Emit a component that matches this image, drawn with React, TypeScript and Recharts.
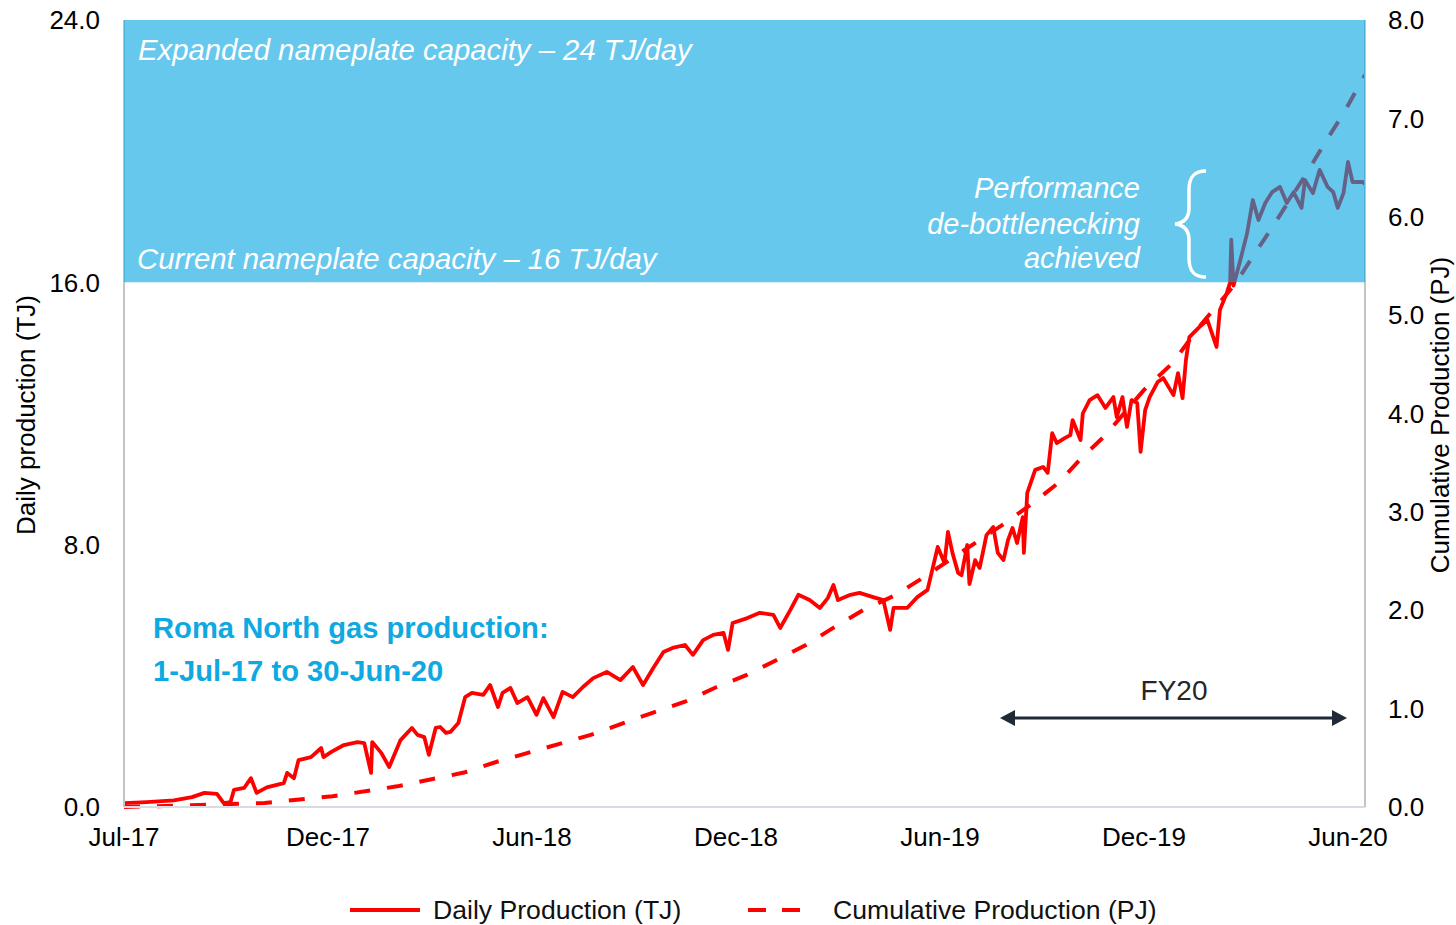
import React from 'react';
import { ComposedChart, Line, XAxis, YAxis, ReferenceArea, Legend } from 'recharts';

const FONT = '"Liberation Sans", Arial, Helvetica, sans-serif';

// Daily production (TJ/day); x = days since 1-Jul-17
const dailyDays = [
  0, 20, 44, 60, 71, 82, 88, 94, 97, 106, 112, 117, 126, 141, 144, 150, 154, 165, 174, 176,
  183, 194, 206, 212, 218, 219, 227, 234, 244, 254, 259, 265, 269, 275, 279, 284, 288, 295, 301, 307,
  317, 323, 330, 334, 341, 347, 356, 364, 370, 379, 387, 396, 405, 414, 426, 438, 449, 458, 467, 476,
  484, 495, 502, 511, 520, 529, 533, 537, 550, 561, 573, 579, 588, 595, 605, 614, 621, 626, 630, 641,
  649, 661, 670, 676, 679, 691, 700, 709, 718, 724, 727, 731, 736, 739, 744, 746, 751, 755, 761, 767,
  771, 776, 780, 784, 788, 793, 794, 797, 804, 811, 815, 819, 823, 830, 835, 837, 844, 846, 852, 859,
  866, 873, 876, 881, 885, 889, 894, 897, 901, 905, 912, 917, 926, 930, 934, 937, 940, 949, 956, 964,
  967, 973, 976, 977, 979, 985, 991, 996, 1001, 1007, 1013, 1020, 1026, 1032, 1039, 1042, 1049, 1055, 1062, 1067,
  1071, 1076, 1080, 1084, 1093, 1095,
];
const dailyTJ = [
  0.12, 0.15, 0.2, 0.3, 0.43, 0.4, 0.12, 0.15, 0.52, 0.58, 0.88, 0.43, 0.6, 0.73, 1.04, 0.88, 1.43, 1.52, 1.8, 1.52,
  1.68, 1.89, 1.98, 1.95, 1.04, 1.98, 1.65, 1.22, 2.04, 2.41, 2.2, 2.13, 1.59, 2.41, 2.44, 2.26, 2.29, 2.56, 3.35, 3.48,
  3.42, 3.72, 3.05, 3.48, 3.63, 3.17, 3.35, 2.81, 3.32, 2.74, 3.51, 3.35, 3.66, 3.93, 4.12, 3.87, 4.27, 3.72, 4.24, 4.73,
  4.85, 4.94, 4.64, 5.09, 5.25, 5.31, 4.79, 5.61, 5.76, 5.92, 5.86, 5.46, 6.01, 6.47, 6.31, 6.07, 6.37, 6.77, 6.31, 6.47,
  6.53, 6.4, 6.31, 5.4, 6.07, 6.07, 6.4, 6.62, 7.93, 7.44, 8.39, 7.75, 7.14, 7.07, 7.99, 6.8, 7.53, 7.29, 8.29, 8.54,
  7.75, 7.53, 8.14, 8.51, 8.05, 8.84, 7.75, 9.58, 10.28, 10.37, 10.19, 11.4, 11.1, 11.25, 11.34, 11.8, 11.19, 12.0, 12.41, 12.56,
  12.17, 12.5, 11.89, 12.5, 11.59, 12.41, 12.32, 10.83, 12.1, 12.5, 12.96, 13.08, 12.56, 13.23, 12.47, 13.63, 14.33, 14.64, 14.85, 14.03,
  15.16, 15.67, 16.0, 17.3, 15.9, 16.68, 17.5, 18.51, 17.9, 18.42, 18.75, 18.91, 18.42, 18.75, 18.27, 19.12, 18.72, 19.43, 18.91, 18.75,
  18.27, 18.72, 19.67, 19.06, 19.06, 19.0,
];

// Cumulative production (PJ)
const cumDays = [
  0, 67, 124, 184, 241, 300, 329, 411, 440, 467, 495, 521, 549, 575, 602, 627, 652, 680, 705, 740,
  778, 802, 825, 845, 866, 900, 925, 950, 980, 998, 1013, 1045, 1060, 1076, 1091, 1095,
];
const cumPJ = [
  0, 0.02, 0.04, 0.11, 0.21, 0.35, 0.46, 0.73, 0.85, 0.96, 1.07, 1.21, 1.34, 1.49, 1.65, 1.83, 2.0, 2.15, 2.33, 2.6,
  2.89, 3.09, 3.3, 3.55, 3.78, 4.24, 4.51, 4.9, 5.31, 5.63, 5.89, 6.47, 6.76, 7.05, 7.36, 7.44,
];

const xTickDays = [0, 180, 360, 540, 720, 900, 1080];
const xTickLabels = ['Jul-17', 'Dec-17', 'Jun-18', 'Dec-18', 'Jun-19', 'Dec-19', 'Jun-20'];
const leftTicks = [0, 8, 16, 24];
const rightTicks = [0, 1, 2, 3, 4, 5, 6, 7, 8];
const capacityBand = [16, 24];

const dailyData = dailyDays.map((d, i) => ({ day: d, daily: dailyTJ[i] }));
const cumData = cumDays.map((d, i) => ({ day: d, cum: cumPJ[i] }));

const tickStyle = { fill: '#000', fontSize: 26, fontFamily: FONT };

const LegendContent = () => (
  <div style={{ position: 'relative', width: 1456, height: 68, fontFamily: FONT, fontSize: 26.6, color: '#111' }}>
    <svg style={{ position: 'absolute', left: 350, top: 50 }} width={70} height={6}>
      <line x1={0} y1={3} x2={70} y2={3} stroke="#FF0000" strokeWidth={4} />
    </svg>
    <div style={{ position: 'absolute', left: 433, top: 38, lineHeight: '30px', whiteSpace: 'nowrap' }}>Daily Production (TJ)</div>
    <svg style={{ position: 'absolute', left: 748, top: 50 }} width={52} height={6}>
      <line x1={0} y1={3} x2={52} y2={3} stroke="#FF0000" strokeWidth={4} strokeDasharray="18 16" />
    </svg>
    <div style={{ position: 'absolute', left: 833, top: 38, lineHeight: '30px', whiteSpace: 'nowrap' }}>Cumulative Production (PJ)</div>
  </div>
);

export default function App() {
  return (
    <div style={{ position: 'absolute', left: 0, top: 0, width: 1456, height: 925, background: '#fff', fontFamily: FONT }}>
      <ComposedChart width={1456} height={925} margin={{ top: 20, right: 0, bottom: 0, left: 0 }}>
        <XAxis
          type="number"
          dataKey="day"
          domain={[0, 1095]}
          ticks={xTickDays}
          interval={0}
          tickFormatter={(v: number) => xTickLabels[xTickDays.indexOf(v)]}
          height={50}
          tickLine={false}
          tickMargin={15}
          axisLine={{ stroke: '#D6DCE4', strokeWidth: 2 }}
          tick={tickStyle}
          allowDataOverflow
        />
        <YAxis
          yAxisId="left"
          domain={[0, 24]}
          ticks={leftTicks}
          interval={0}
          width={124}
          tickLine={false}
          tickMargin={18}
          axisLine={{ stroke: '#C4C4C4', strokeWidth: 2 }}
          tick={tickStyle}
          tickFormatter={(v: number) => v.toFixed(1)}
        />
        <YAxis
          yAxisId="right"
          orientation="right"
          domain={[0, 8]}
          ticks={rightTicks}
          interval={0}
          width={91}
          tickLine={false}
          tickMargin={17}
          axisLine={{ stroke: '#C4C4C4', strokeWidth: 2 }}
          tick={tickStyle}
          tickFormatter={(v: number) => v.toFixed(1)}
        />
        <Line
          yAxisId="left"
          data={dailyData}
          dataKey="daily"
          type="linear"
          stroke="#FF0000"
          strokeWidth={3.8}
          strokeLinejoin="round"
          dot={false}
          activeDot={false}
          isAnimationActive={false}
          name="Daily Production (TJ)"
        />
        <Line
          yAxisId="right"
          data={cumData}
          dataKey="cum"
          type="linear"
          stroke="#FF0000"
          strokeWidth={4}
          strokeDasharray="16 17"
          dot={false}
          activeDot={false}
          isAnimationActive={false}
          name="Cumulative Production (PJ)"
        />
        <ReferenceArea
          yAxisId="left"
          x1={0}
          x2={1095}
          y1={capacityBand[0]}
          y2={capacityBand[1]}
          fill="rgb(0,163,225)"
          fillOpacity={0.6}
          stroke="none"
          ifOverflow="visible"
          zIndex={2000}
        />
        <Legend verticalAlign="bottom" height={68} content={<LegendContent />} />
      </ComposedChart>
      <svg
        width={1456}
        height={925}
        style={{ position: 'absolute', left: 0, top: 0, pointerEvents: 'none', fontFamily: FONT }}
      >
        <text x={138} y={60} fill="#fff" fontSize={29.3} fontStyle="italic">Expanded nameplate capacity – 24 TJ/day</text>
        <text x={137} y={269} fill="#fff" fontSize={29.3} fontStyle="italic">Current nameplate capacity – 16 TJ/day</text>
        <text x={1140} y={198} fill="#fff" fontSize={29} fontStyle="italic" textAnchor="end">Performance</text>
        <text x={1140} y={234} fill="#fff" fontSize={29} fontStyle="italic" textAnchor="end">de-bottlenecking</text>
        <text x={1140} y={268} fill="#fff" fontSize={29} fontStyle="italic" textAnchor="end">achieved</text>
        <path
          d="M 1206 171 C 1193 171, 1189 178, 1189 190 L 1189 208 C 1189 218, 1184 223, 1175 224 C 1184 225, 1189 230, 1189 240 L 1189 258 C 1189 270, 1193 277, 1206 277"
          fill="none"
          stroke="#fff"
          strokeWidth={3.5}
        />
        <text x={153} y={638} fill="#0FA9E2" fontSize={29.2} fontWeight="bold">Roma North gas production:</text>
        <text x={153} y={681} fill="#0FA9E2" fontSize={29.2} fontWeight="bold">1-Jul-17 to 30-Jun-20</text>
        <text x={1174} y={700} fill="#262626" fontSize={28} textAnchor="middle">FY20</text>
        <line x1={1012} y1={718} x2={1335} y2={718} stroke="#1F2A36" strokeWidth={3} />
        <polygon points="1000,718 1015,710 1015,726" fill="#1F2A36" />
        <polygon points="1347,718 1332,710 1332,726" fill="#1F2A36" />
        <text transform="translate(35,415) rotate(-90)" textAnchor="middle" fontSize={26} fill="#000">Daily production (TJ)</text>
        <text transform="translate(1449,415) rotate(-90)" textAnchor="middle" fontSize={26} fill="#000">Cumulative Production (PJ)</text>
      </svg>
    </div>
  );
}
